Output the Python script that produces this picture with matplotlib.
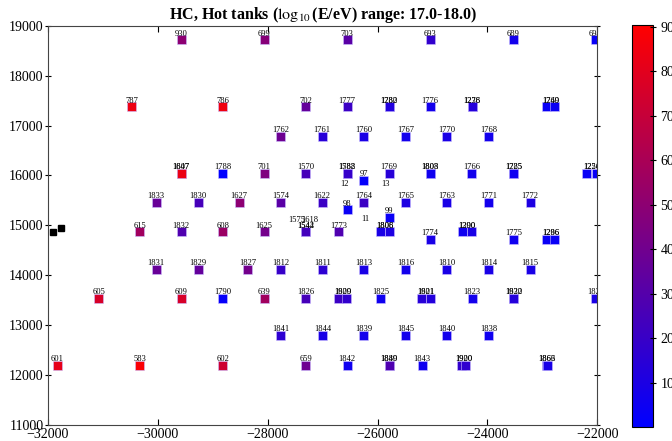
import numpy as np
import matplotlib
matplotlib.use("Agg")
import matplotlib.pyplot as plt
from matplotlib.colors import LinearSegmentedColormap

plt.rcParams['font.family'] = ['Liberation Serif', 'DejaVu Serif']
plt.rcParams['mathtext.fontset'] = 'stix'

# tank positions (m), signal value, tank id
tank_x = [-29571, -28062, -26553, -25044, -23527, -22036,
          -30473, -28818, -27304, -26553, -25789, -25789, -25044, -24280, -24280, -22922, -22776,
          -27758, -27007, -26249, -25485, -24740, -23978,
          -29571, -29571, -28818, -28062, -27304, -26553, -26553, -25789, -25044, -25044, -24285,
          -23524, -23524, -22195, -22013, -26249,
          -30025, -29262, -28516, -27758, -27007, -26249, -25485, -24740, -23978, -23225,
          -26553, -25789,
          -30327, -29571, -28818, -28062, -27304, -27304, -26704, -25955, -25789, -24449, -24285,
          -25044, -23527, -22922, -22776,
          -30025, -29262, -28364, -27758, -27007, -26249, -25485, -24740, -23978, -23225,
          -31073, -29571, -28818, -28062, -27304, -26704, -26558, -25945, -25196, -25031, -24280,
          -23527, -23527, -22033,
          -27758, -26998, -26249, -25485, -24740, -23978,
          -31831, -30327, -28818, -27304, -26553, -25789, -25789, -25189, -24470, -24400, -22927, -22900]
tank_y = [18714, 18714, 18714, 18714, 18714, 18714,
          17374, 17374, 17374, 17374, 17374, 17374, 17374, 17374, 17374, 17374, 17374,
          16788, 16788, 16788, 16788, 16788, 16788,
          16048, 16048, 16048, 16048, 16048, 16048, 16048, 16048, 16048, 16048, 16048,
          16048, 16048, 16048, 16048, 15900,
          15460, 15460, 15460, 15460, 15460, 15460, 15460, 15460, 15460, 15460,
          15308, 15160,
          14868, 14868, 14868, 14868, 14868, 14868, 14868, 14868, 14868, 14868, 14868,
          14714, 14714, 14714, 14714,
          14120, 14120, 14120, 14120, 14120, 14120, 14120, 14120, 14120, 14120,
          13534, 13534, 13534, 13534, 13534, 13534, 13534, 13534, 13534, 13534, 13534,
          13534, 13534, 13534,
          12794, 12794, 12794, 12794, 12794, 12794,
          12200, 12200, 12200, 12200, 12200, 12200, 12200, 12200, 12200, 12200, 12200, 12200]
tank_val = [500, 480, 320, 180, 70, 30,
            840, 850, 355, 210, 110, 120, 70, 140, 130, 35, 40,
            390, 140, 90, 70, 90, 70,
            840, 830, 0, 445, 250, 195, 190, 140, 70, 60, 70,
            55, 50, 35, 30, 20,
            370, 250, 500, 320, 210, 210, 105, 90, 70, 105,
            35, 35,
            570, 285, 550, 410, 250, 240, 285, 90, 105, 55, 90,
            90, 55, 35, 35,
            370, 355, 410, 195, 160, 90, 70, 90, 90, 90,
            760, 760, 20, 570, 250, 210, 180, 55, 140, 125, 70,
            140, 130, 90,
            160, 90, 70, 70, 70, 55,
            815, 885, 725, 390, 55, 285, 280, 55, 180, 170, 90, 85]
tank_id = ['930', '699', '703', '693', '689', '694',
           '787', '786', '702', '1777', '1282', '1780', '1776', '1278', '1236', '1749', '1260',
           '1762', '1761', '1760', '1767', '1770', '1768',
           '1807', '1647', '1788', '701', '1570', '1588', '1782', '1769', '1803', '1808', '1766',
           '1225', '1785', '1224', '1256', '97',
           '1833', '1830', '1627', '1574', '1622', '1764', '1765', '1763', '1771', '1772',
           '98', '99',
           '615', '1832', '608', '1625', '1544', '1542', '1773', '1806', '1808', '1300', '1290',
           '1774', '1775', '1286', '1296',
           '1831', '1829', '1827', '1812', '1811', '1813', '1816', '1810', '1814', '1815',
           '605', '609', '1790', '639', '1826', '1909', '1820', '1825', '1821', '1901', '1823',
           '1822', '1930', '1828',
           '1841', '1844', '1839', '1845', '1840', '1838',
           '601', '583', '602', '659', '1842', '1880', '1849', '1843', '1900', '1920', '1866', '1863']

# ids without a signal (label only)
empty_x = [-26598, -25849, -26225, -27469, -27233]
empty_y = [15700, 15700, 15006, 14986, 14986]
empty_id = ['12', '13', '11', '1575', '1618']

# extra reference points
ref_x = [-31904, -31751]
ref_y = [14873, 14944]

fig = plt.figure(figsize=(6.72, 4.41), dpi=100)
ax = fig.add_axes([0.071, 0.0363, 0.818, 0.9054])
cax = fig.add_axes([0.941, 0.0317, 0.0302, 0.9116])

cmap = LinearSegmentedColormap.from_list('br', [(0, 0, 1), (1, 0, 0)])
sc = ax.scatter(tank_x, tank_y, c=tank_val, cmap=cmap, vmin=0, vmax=904,
                marker='s', s=42, edgecolors=(0.8, 0.75, 1.0), linewidths=0.4, zorder=2)
ax.plot(ref_x, ref_y, 'ks', markersize=3.8, zorder=3)

# close doublets share one label position (the pair centre)
all_x = np.array(tank_x + empty_x, dtype=float)
all_y = np.array(tank_y + empty_y, dtype=float)
all_id = tank_id + empty_id
for i in range(len(all_id)):
    near = (np.abs(all_x - all_x[i]) < 200) & (all_y == all_y[i])
    lx = all_x[near].mean()
    ax.annotate(all_id[i], (lx, all_y[i]), xytext=(0, 1.6), textcoords='offset points',
                ha='center', va='bottom', fontsize=6.1, clip_on=True, zorder=4)

ax.set_xlim(-32000, -22000)
ax.set_ylim(11000, 19000)
ax.set_xticks([-32000, -30000, -28000, -26000, -24000, -22000])
ax.set_yticks(np.arange(11000, 19001, 1000))
ax.tick_params(labelsize=10, direction='in', length=4, top=True, right=True, pad=2)
ax.tick_params(axis='y', which='major', left=True, direction='inout', length=5, pad=0.5)
for sp in ax.spines.values():
    sp.set_color('#444444')
ax.set_title(r'HC, Hot tanks ($\log_{10}$(E/eV) range: 17.0-18.0)',
             fontsize=11.5, fontweight='bold', pad=5)

cb = fig.colorbar(sc, cax=cax, ticks=np.arange(100, 901, 100))
cb.ax.tick_params(labelsize=10, direction='inout', length=4)
cb.outline.set_linewidth(0.8)

fig.savefig('out.png', dpi=100)
